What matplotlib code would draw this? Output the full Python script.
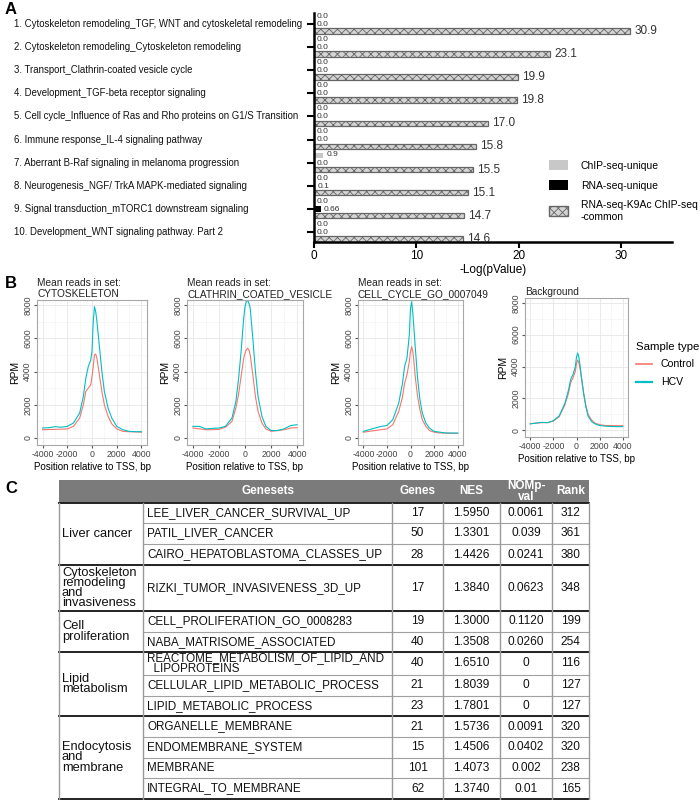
import numpy as np
import matplotlib.pyplot as plt
from matplotlib.patches import Patch, Rectangle
from matplotlib.lines import Line2D
import matplotlib.transforms as mtransforms

plt.rcParams['font.family'] = ['Liberation Sans', 'DejaVu Sans']
plt.rcParams['hatch.linewidth'] = 0.6
plt.rcParams['axes.unicode_minus'] = False

# ---------------- data: panel A ----------------
pathways = [
    "1. Cytoskeleton remodeling_TGF, WNT and cytoskeletal remodeling",
    "2. Cytoskeleton remodeling_Cytoskeleton remodeling",
    "3. Transport_Clathrin-coated vesicle cycle",
    "4. Development_TGF-beta receptor signaling",
    "5. Cell cycle_Influence of Ras and Rho proteins on G1/S Transition",
    "6. Immune response_IL-4 signaling pathway",
    "7. Aberrant B-Raf signaling in melanoma progression",
    "8. Neurogenesis_NGF/ TrkA MAPK-mediated signaling",
    "9. Signal transduction_mTORC1 downstream signaling",
    "10. Development_WNT signaling pathway. Part 2",
]
chip_unique = [0, 0, 0, 0, 0, 0, 0.9, 0, 0, 0]
rna_unique = [0, 0, 0, 0, 0, 0, 0, 0.1, 0.66, 0]
common = [30.9, 23.1, 19.9, 19.8, 17.0, 15.8, 15.5, 15.1, 14.7, 14.6]
chip_labels = ["0.0", "0.0", "0.0", "0.0", "0.0", "0.0", "0.9", "0.0", "0.0", "0.0"]
rna_labels = ["0.0", "0.0", "0.0", "0.0", "0.0", "0.0", "0.0", "0.1", "0.66", "0.0"]
legend_a = ["ChIP-seq-unique", "RNA-seq-unique", "RNA-seq-K9Ac ChIP-seq\n-common"]

# ---------------- data: panel B ----------------
tss_pos = [-4000, -3500, -3000, -2500, -2000, -1500, -1000, -700, -500, -300, -100,
           0, 100, 200, 300, 400, 600, 800, 1000, 1300, 1600, 2000, 2500, 3000, 3500, 4000]
b_titles = ["Mean reads in set:\nCYTOSKELETON", "Mean reads in set:\nCLATHRIN_COATED_VESICLE",
            "Mean reads in set:\nCELL_CYCLE_GO_0007049", "Background"]
ctrl_cyto = [500, 510, 520, 530, 550, 700, 1200, 2000, 2800, 3000, 3200, 3700, 4300, 5000,
             5050, 4800, 3800, 2800, 2000, 1300, 850, 550, 400, 380, 370, 350]
hcv_cyto = [600, 620, 680, 650, 700, 900, 1500, 2500, 3600, 4300, 4700, 5200, 7000, 7900,
            7600, 7000, 5500, 4000, 2800, 1800, 1200, 700, 500, 400, 380, 380]
ctrl_clat = [600, 550, 500, 500, 520, 650, 1000, 1800, 2600, 3700, 4800, 5100, 5300, 5400,
             5300, 5000, 3800, 2500, 1600, 900, 550, 400, 450, 500, 600, 620]
hcv_clat = [700, 700, 550, 580, 600, 700, 1200, 2200, 3500, 5200, 7200, 7900, 8200, 8300,
            8100, 7800, 6000, 4000, 2500, 1300, 700, 450, 450, 550, 750, 800]
ctrl_cell = [350, 400, 450, 500, 550, 800, 1600, 2400, 3300, 3800, 4600, 5200, 5500, 5200,
             4500, 3700, 2500, 1700, 1100, 700, 450, 350, 300, 300, 280, 280]
hcv_cell = [400, 500, 600, 700, 750, 1100, 2100, 3200, 4300, 4800, 6200, 7800, 8200, 7500,
            6500, 5500, 3600, 2300, 1500, 900, 600, 400, 350, 300, 300, 300]
ctrl_bg = [420, 450, 480, 480, 580, 850, 1600, 2300, 3000, 3300, 3700, 4200, 4400, 4250,
           3900, 3400, 2400, 1600, 1000, 650, 450, 350, 300, 300, 290, 290]
hcv_bg = [400, 450, 500, 480, 600, 900, 1700, 2500, 3200, 3500, 4000, 4600, 4850, 4600,
          4100, 3500, 2400, 1500, 900, 550, 400, 300, 260, 240, 230, 230]
ctrl_sets = [ctrl_cyto, ctrl_clat, ctrl_cell, ctrl_bg]
hcv_sets = [hcv_cyto, hcv_clat, hcv_cell, hcv_bg]

# ---------------- data: panel C ----------------
group_names = ["Liver cancer", "Cytoskeleton\nremodeling\nand\ninvasiveness",
               "Cell\nproliferation", "Lipid\nmetabolism", "Endocytosis\nand\nmembrane"]
group_sizes = [3, 1, 2, 3, 4]
genesets = ["LEE_LIVER_CANCER_SURVIVAL_UP", "PATIL_LIVER_CANCER", "CAIRO_HEPATOBLASTOMA_CLASSES_UP",
            "RIZKI_TUMOR_INVASIVENESS_3D_UP", "CELL_PROLIFERATION_GO_0008283",
            "NABA_MATRISOME_ASSOCIATED", "REACTOME_METABOLISM_OF_LIPID_AND\n  LIPOPROTEINS",
            "CELLULAR_LIPID_METABOLIC_PROCESS", "LIPID_METABOLIC_PROCESS", "ORGANELLE_MEMBRANE",
            "ENDOMEMBRANE_SYSTEM", "MEMBRANE", "INTEGRAL_TO_MEMBRANE"]
genes = ["17", "50", "28", "17", "19", "40", "40", "21", "23", "21", "15", "101", "62"]
nes = ["1.5950", "1.3301", "1.4426", "1.3840", "1.3000", "1.3508", "1.6510", "1.8039",
       "1.7801", "1.5736", "1.4506", "1.4073", "1.3740"]
nom_pval = ["0.0061", "0.039", "0.0241", "0.0623", "0.1120", "0.0260", "0", "0", "0",
            "0.0091", "0.0402", "0.002", "0.01"]
rank = ["312", "361", "380", "348", "199", "254", "116", "127", "127", "320", "320", "238", "165"]
headers = ["", "Genesets", "Genes", "NES", "NOMp-\nval", "Rank"]

W, H = 700, 800
fig = plt.figure(figsize=(7, 8), dpi=100)


def px_axes(l, t, r, b):
    return fig.add_axes([l / W, 1 - b / H, (r - l) / W, (b - t) / H])


# ================= Panel A =================
ax = px_axes(314, 13, 672, 242)
yy = np.arange(len(pathways))
off, bh = 0.3, 0.24
ax.barh(yy - off, chip_unique, height=bh, color='#c8c8c8')
ax.barh(yy, rna_unique, height=bh, color='black')
ax.barh(yy + off, common, height=bh, color='#d4d4d4', edgecolor='#666666', hatch='xxxx', linewidth=0.9)
for i in range(len(pathways)):
    ax.text(chip_unique[i] + 0.3, yy[i] - off - 0.03, chip_labels[i], va='center', ha='left', fontsize=6,
            color='#333333')
    ax.text(rna_unique[i] + 0.3, yy[i] + 0.02, rna_labels[i], va='center', ha='left', fontsize=6,
            color='#333333')
    ax.text(common[i] + 0.4, yy[i] + off, f"{common[i]:.1f}", va='center', ha='left', fontsize=8.5,
            color='#333333')
ax.set_ylim(9.44, -0.48)
ax.set_xlim(0, 35)
ax.set_yticks(yy)
ax.set_yticklabels([])
ax.set_xticks([0, 10, 20, 30])
ax.tick_params(axis='y', length=5, width=1.5)
ax.tick_params(axis='x', length=4, width=1.5, labelsize=8.5, pad=2)
for s in ['top', 'right']:
    ax.spines[s].set_visible(False)
for s in ['left', 'bottom']:
    ax.spines[s].set_linewidth(1.8)
ax.set_xlabel('-Log(pValue)', fontsize=8.5, labelpad=1)
trans = mtransforms.blended_transform_factory(fig.transFigure, ax.transData)
for i, name in enumerate(pathways):
    ax.text(14 / W, yy[i], name, transform=trans, ha='left', va='center', fontsize=6.9, color='#111111')

fig.legend(handles=[Patch(facecolor='#c8c8c8'), Patch(facecolor='black'),
                    Patch(facecolor='#d4d4d4', edgecolor='#666666', hatch='xxxx')],
           labels=legend_a, loc='upper left', bbox_to_anchor=(540 / W, 1 - 151 / H),
           frameon=False, fontsize=7.5, handlelength=1.8, handleheight=1.1,
           labelspacing=0.9, handletextpad=1.2)

# ================= Panel B =================
b_boxes = [(37, 300, 147, 445), (187, 300, 303, 445), (358, 300, 463, 445), (525, 298, 628, 437)]
for k, (l, t, r, b) in enumerate(b_boxes):
    bx = px_axes(l, t, r, b)
    bx.plot(tss_pos, ctrl_sets[k], color='#F8766D', lw=0.8)
    bx.plot(tss_pos, hcv_sets[k], color='#00BFC4', lw=0.8)
    bx.set_xlim(-4450, 4450)
    bx.set_ylim(-420, 8300)
    bx.set_xticks([-4000, -2000, 0, 2000, 4000])
    bx.set_xticks([-3000, -1000, 1000, 3000], minor=True)
    bx.set_yticks([0, 2000, 4000, 6000, 8000])
    bx.set_yticks([1000, 3000, 5000, 7000], minor=True)
    bx.grid(which='major', color='#e6e6e6', lw=0.6)
    bx.grid(which='minor', color='#f2f2f2', lw=0.4)
    bx.set_axisbelow(True)
    bx.tick_params(which='minor', length=0)
    bx.tick_params(which='major', length=2, color='#555555', labelsize=6.3, labelcolor='#444444', pad=1.5)
    for lab in bx.get_yticklabels():
        lab.set_rotation(90)
        lab.set_va('center')
    for s in bx.spines.values():
        s.set_color('#a8a8a8')
        s.set_linewidth(0.8)
    bx.set_title(b_titles[k], loc='left', fontsize=7.3, pad=2, color='#222222', linespacing=1.1)
    bx.set_ylabel('RPM', fontsize=7.5, labelpad=2)
    bx.set_xlabel('Position relative to TSS, bp', fontsize=7, labelpad=2)

fig.legend(handles=[Line2D([], [], color='#F8766D', lw=1.2), Line2D([], [], color='#00BFC4', lw=1.6)],
           labels=['Control', 'HCV'], title='Sample type', loc='upper left',
           bbox_to_anchor=(626 / W, 1 - 332 / H), frameon=False, fontsize=7.6, title_fontsize=8.2,
           handlelength=1.6, alignment='left', labelspacing=0.75)

# ================= Panel C =================
tx = fig.add_axes([0, 0, 1, 1])
tx.set_xlim(0, W)
tx.set_ylim(H, 0)
tx.axis('off')
tx.patch.set_visible(False)

col_edges = [59, 143, 392, 443, 500, 552, 589]
header_top, header_bot = 480, 503
row_h = [20, 21, 21, 46, 21, 20, 23, 21, 20, 21, 21, 20, 21]
row_edges = np.concatenate([[header_bot], header_bot + np.cumsum(row_h)])

tx.add_patch(Rectangle((col_edges[0], header_top), col_edges[-1] - col_edges[0], header_bot - header_top,
                       facecolor='#7b7b7b', edgecolor='none'))
for j, hd in enumerate(headers):
    xc = (col_edges[j] + col_edges[j + 1]) / 2
    tx.text(xc, (header_top + header_bot) / 2, hd, ha='center', va='center', color='white',
            fontsize=8.5, fontweight='bold', linespacing=0.9)

# horizontal lines
group_starts = np.concatenate([[0], np.cumsum(group_sizes)])
for i in range(1, len(row_h)):
    tx.plot([col_edges[1], col_edges[-1]], [row_edges[i]] * 2, color='#a0a0a0', lw=0.8)
for g in group_starts:
    tx.plot([col_edges[0], col_edges[-1]], [row_edges[g]] * 2, color='#222222', lw=1.4)
# vertical lines
for x in col_edges:
    tx.plot([x, x], [header_bot, row_edges[-1]], color='#9a9a9a', lw=1.0)

# group labels
for g, name in enumerate(group_names):
    yc = (row_edges[group_starts[g]] + row_edges[group_starts[g + 1]]) / 2
    tx.text(col_edges[0] + 3, yc, name, ha='left', va='center', fontsize=9.3, linespacing=0.8, color='#111111')

for i in range(len(genesets)):
    yc = (row_edges[i] + row_edges[i + 1]) / 2
    tx.text(col_edges[1] + 4, yc, genesets[i], ha='left', va='center', fontsize=8.4, linespacing=0.8,
            color='#111111')
    for j, val in enumerate([genes[i], nes[i], nom_pval[i], rank[i]]):
        xc = (col_edges[j + 2] + col_edges[j + 3]) / 2
        tx.text(xc, yc, val, ha='center', va='center', fontsize=8.6, color='#111111')

# panel letters
for letter, ypx in [('A', 10), ('B', 284), ('C', 489)]:
    fig.text(5 / W, 1 - ypx / H, letter, fontsize=12, fontweight='bold', va='center', ha='left')

fig.savefig('out.png', dpi=100)
